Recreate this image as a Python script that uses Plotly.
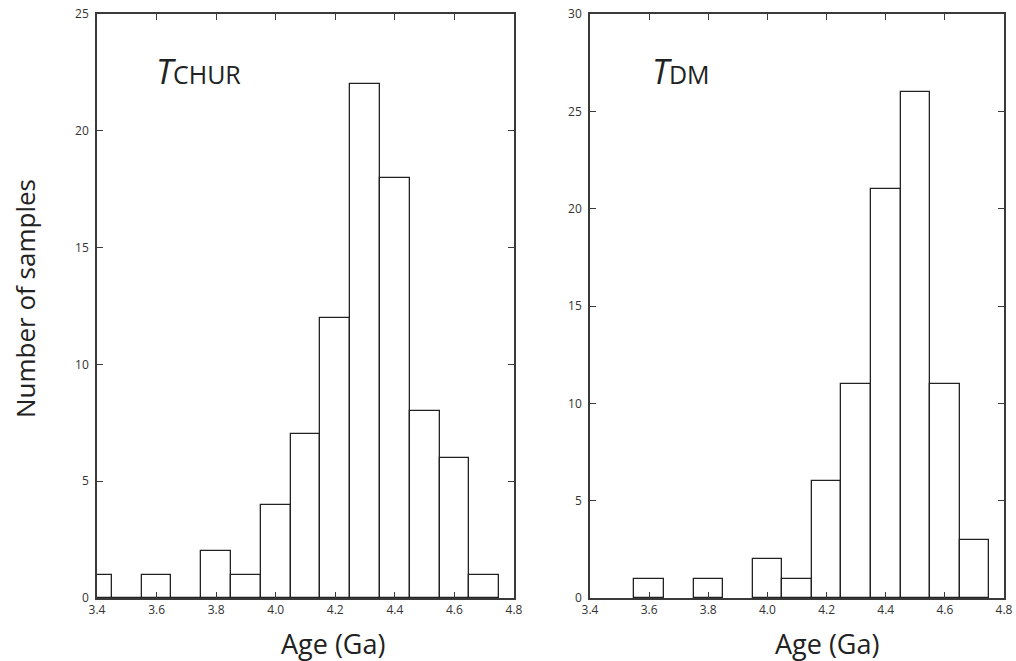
import plotly.graph_objects as go

# Bin centres (Ga) and counts
chur_ages = [3.4, 3.5, 3.6, 3.7, 3.8, 3.9, 4.0, 4.1, 4.2, 4.3, 4.4, 4.5, 4.6, 4.7]
chur_counts = [1, 0, 1, 0, 2, 1, 4, 7, 12, 22, 18, 8, 6, 1]
dm_ages = [3.6, 3.8, 4.0, 4.1, 4.2, 4.3, 4.4, 4.5, 4.6, 4.7]
dm_counts = [1, 1, 2, 1, 6, 11, 21, 26, 11, 3]
bin_width = 0.1
x_ticks = [3.4, 3.6, 3.8, 4.0, 4.2, 4.4, 4.6, 4.8]
x_tick_labels = ["3.4", "3.6", "3.8", "4.0", "4.2", "4.4", "4.6", "4.8"]

W, H = 1016, 661
FONT = "Open Sans"
LINE = "#3a3a3a"

fig = go.Figure()
fig.add_trace(go.Bar(x=chur_ages, y=chur_counts, width=bin_width,
                     marker=dict(color="white", line=dict(color="#222", width=1.3)),
                     xaxis="x", yaxis="y", showlegend=False))
fig.add_trace(go.Bar(x=dm_ages, y=dm_counts, width=bin_width,
                     marker=dict(color="white", line=dict(color="#222", width=1.3)),
                     xaxis="x2", yaxis="y2", showlegend=False))

ydom = [(H - 598) / H, (H - 14) / H]
axis_common = dict(showline=True, linecolor=LINE, linewidth=1.5, mirror="ticks",
                   ticks="inside", ticklen=6, tickwidth=1.2, tickcolor=LINE,
                   showgrid=False, zeroline=False, automargin=False,
                   ticklabeloverflow="allow",
                   tickfont=dict(family=FONT, size=12, color="#333"))

fig.update_layout(
    width=W, height=H,
    margin=dict(l=0, r=0, t=0, b=0),
    paper_bgcolor="white", plot_bgcolor="white",
    bargap=0,
    xaxis=dict(domain=[97 / W, 514 / W], range=[3.4, 4.8], tickvals=x_ticks,
               ticktext=x_tick_labels, ticklabelstandoff=0, **axis_common),
    xaxis2=dict(domain=[590 / W, 1004 / W], range=[3.4, 4.8], tickvals=x_ticks,
                ticktext=x_tick_labels, anchor="y2", ticklabelstandoff=0, **axis_common),
    yaxis=dict(domain=ydom, range=[0, 25], tickvals=[0, 5, 10, 15, 20, 25],
               ticklabelstandoff=4, **axis_common),
    yaxis2=dict(domain=ydom, range=[0, 30], tickvals=[0, 5, 10, 15, 20, 25, 30],
                anchor="x2", ticklabelstandoff=4, **axis_common),
)

annotations = [
    dict(text="<i>T</i><span style='font-size:25px'>CHUR</span>", x=154 / W, y=(H - 96) / H,
         xref="paper", yref="paper", xanchor="left", yanchor="bottom", showarrow=False,
         font=dict(family=FONT, size=34, color="#222")),
    dict(text="<i>T</i><span style='font-size:25px'>DM</span>", x=650 / W, y=(H - 96) / H,
         xref="paper", yref="paper", xanchor="left", yanchor="bottom", showarrow=False,
         font=dict(family=FONT, size=34, color="#222")),
    dict(text="Age (Ga)", x=333 / W, y=(H - 643) / H, xref="paper", yref="paper",
         xanchor="center", yanchor="middle", showarrow=False,
         font=dict(family=FONT, size=27, color="#222")),
    dict(text="Age (Ga)", x=827 / W, y=(H - 643) / H, xref="paper", yref="paper",
         xanchor="center", yanchor="middle", showarrow=False,
         font=dict(family=FONT, size=27, color="#222")),
    dict(text="Number of samples", x=25 / W, y=(H - 299) / H, xref="paper", yref="paper",
         xanchor="center", yanchor="middle", showarrow=False, textangle=-90,
         font=dict(family=FONT, size=26, color="#222")),
]
fig.update_layout(annotations=annotations)

fig.write_html("out.html", config={"displayModeBar": False},
               post_script="document.body.style.margin='0';document.body.style.overflow='hidden';")
